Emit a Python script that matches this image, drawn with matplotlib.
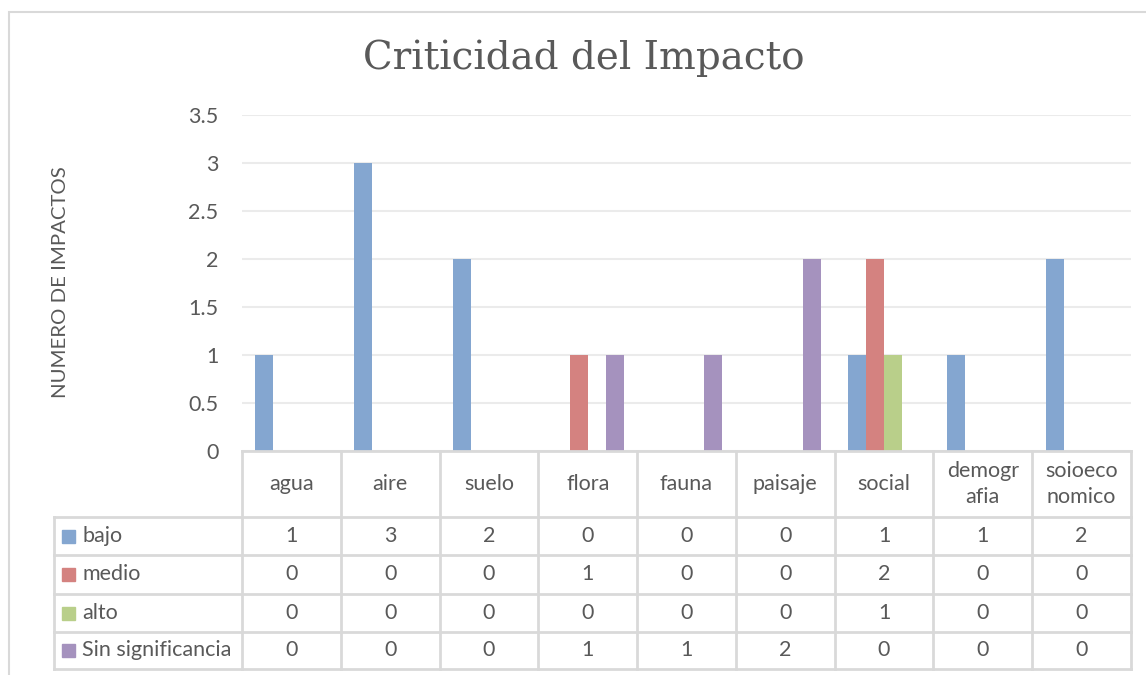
import matplotlib.pyplot as plt
from matplotlib.patches import Rectangle
from matplotlib.lines import Line2D

# data
categories = ["agua", "aire", "suelo", "flora", "fauna", "paisaje", "social",
              "demogr\nafia", "soioeco\nnomico"]
series_names = ["bajo", "medio", "alto", "Sin significancia"]
bajo = [1, 3, 2, 0, 0, 0, 1, 1, 2]
medio = [0, 0, 0, 1, 0, 0, 2, 0, 0]
alto = [0, 0, 0, 0, 0, 0, 1, 0, 0]
sin_signif = [0, 0, 0, 1, 1, 2, 0, 0, 0]
yticks = [0, 0.5, 1, 1.5, 2, 2.5, 3, 3.5]

colors = ["#84A6D0", "#D48280", "#B9CF8A", "#A592BE"]
series = [bajo, medio, alto, sin_signif]

W, H = 1146, 675
TXT = "#595959"
GRID = "#D9D9D9"
FS = 15.5
plt.rcParams['font.family'] = ['Lato', 'DejaVu Sans']


def fx(px):
    return px / W


def fy(py):
    return 1 - py / H


fig = plt.figure(figsize=(W / 100, H / 100), dpi=100)

# chart border
fig.patches.append(Rectangle((fx(9), fy(H + 5)), fx(W + 10) - fx(9), fy(12) - fy(H + 5),
                             transform=fig.transFigure, fill=False,
                             edgecolor="#D9D9D9", linewidth=1.5))

left, right, top, bottom = 242, 1131, 115, 451
ax = fig.add_axes([fx(left), fy(bottom), fx(right) - fx(left), fy(top) - fy(bottom)])

n = len(categories)
w = 0.182
for k, vals in enumerate(series):
    xs = [i + (k - 1.5) * w for i in range(n)]
    ax.bar(xs, vals, width=w, color=colors[k], zorder=3)

ax.set_xlim(-0.5, n - 0.5)
ax.set_ylim(0, 3.5)
ax.set_yticks(yticks)
ax.set_yticklabels([f"{t:g}" for t in yticks], color=TXT, fontsize=FS)
ax.tick_params(axis="y", length=0, pad=17)
ax.set_xticks([])
ax.grid(axis="y", color="#EBEBEB", linewidth=1.5, zorder=0)
for s in ax.spines.values():
    s.set_visible(False)

fig.text(fx(60), fy(282), "NUMERO DE IMPACTOS", rotation=90, ha="center", va="center",
         color=TXT, fontsize=14.7)

fig.text(fx(584), fy(58), "Criticidad del Impacto", ha="center", va="center",
         color=TXT, fontsize=28, family=["DejaVu Serif"])

# data table under the plot
col_edges = [left + (right - left) * i / n for i in range(n + 1)]
rows = [451, 517, 555, 594, 632, 669]
legend_left = 54


def hline(x0, x1, y):
    fig.add_artist(Line2D([fx(x0), fx(x1)], [fy(y), fy(y)], color=GRID, linewidth=2))


def vline(x, y0, y1):
    fig.add_artist(Line2D([fx(x), fx(x)], [fy(y0), fy(y1)], color=GRID, linewidth=2))


hline(left, right, rows[0])
for y in rows[1:]:
    hline(legend_left, right, y)
for x in col_edges:
    vline(x, rows[0], rows[-1])
vline(legend_left, rows[1], rows[-1])

for i, cat in enumerate(categories):
    cx = (col_edges[i] + col_edges[i + 1]) / 2
    fig.text(fx(cx), fy((rows[0] + rows[1]) / 2), cat, ha="center", va="center",
             color=TXT, fontsize=FS, linespacing=1.4)

for k, name in enumerate(series_names):
    cy = (rows[k + 1] + rows[k + 2]) / 2
    fig.patches.append(Rectangle((fx(62), fy(cy + 6.5)), fx(13), 13 / H,
                                 transform=fig.transFigure, color=colors[k]))
    fig.text(fx(82), fy(cy), name, ha="left", va="center", color=TXT, fontsize=FS)
    for i, v in enumerate(series[k]):
        cx = (col_edges[i] + col_edges[i + 1]) / 2
        fig.text(fx(cx), fy(cy), str(v), ha="center", va="center", color=TXT, fontsize=FS)

fig.savefig("out.png", dpi=100, facecolor="white")
